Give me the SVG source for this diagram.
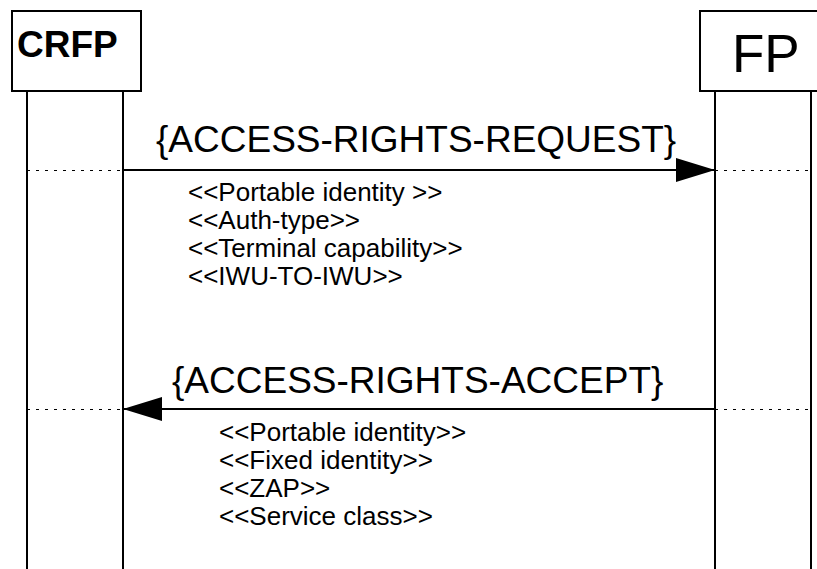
<svg xmlns="http://www.w3.org/2000/svg" width="817" height="569" viewBox="0 0 817 569">
<style>
  .box{fill:#fff;stroke:#000;stroke-width:2}
  .life{stroke:#000;stroke-width:2;fill:none}
  .dot{stroke:#000;stroke-width:1;stroke-dasharray:3 6;fill:none}
  .msg{stroke:#000;stroke-width:2;fill:none}
  .title{font-family:"Liberation Sans",Arial,sans-serif;font-size:37px;fill:#000}
  .param{font-family:"Liberation Sans",Arial,sans-serif;font-size:26px;fill:#000}
</style>
<defs>
  <marker id="ah" markerUnits="userSpaceOnUse" markerWidth="40" markerHeight="24" refX="39" refY="12" orient="auto">
    <polygon points="0,0 39,12 0,24" fill="#000"/>
  </marker>
</defs>
<rect width="817" height="569" fill="#fff"/>
<g id="crfp">
  <rect class="box" x="12" y="11" width="129" height="80"/>
  <line class="life" x1="27" y1="91" x2="27" y2="569"/>
  <line class="life" x1="123" y1="91" x2="123" y2="569"/>
  <text x="17" y="57" font-family="'Liberation Sans',Arial,sans-serif" font-size="37" font-weight="bold">CRFP</text>
</g>
<g id="fp">
  <rect class="box" x="700" y="11" width="130" height="80"/>
  <line class="life" x1="715" y1="91" x2="715" y2="569"/>
  <line class="life" x1="811" y1="91" x2="811" y2="569"/>
  <text x="732" y="72" font-family="'Liberation Sans',Arial,sans-serif" font-size="53">FP</text>
</g>
<g id="connectors">
  <line class="dot" x1="27" y1="170.5" x2="123" y2="170.5"/>
  <line class="dot" x1="715" y1="170.5" x2="811" y2="170.5"/>
  <line class="msg" x1="123" y1="170" x2="715" y2="170" marker-end="url(#ah)"/>
  <line class="dot" x1="27" y1="409.5" x2="123" y2="409.5"/>
  <line class="dot" x1="715" y1="409.5" x2="811" y2="409.5"/>
  <line class="msg" x1="715" y1="409" x2="123" y2="409" marker-end="url(#ah)"/>
</g>
<g id="labels">
  <text class="title" x="156" y="152">{ACCESS-RIGHTS-REQUEST}</text>
  <text class="param" x="188" y="201">&lt;&lt;Portable identity &gt;&gt;</text>
  <text class="param" x="188" y="229">&lt;&lt;Auth-type&gt;&gt;</text>
  <text class="param" x="188" y="257">&lt;&lt;Terminal capability&gt;&gt;</text>
  <text class="param" x="188" y="285">&lt;&lt;IWU-TO-IWU&gt;&gt;</text>
  <text class="title" x="172" y="393">{ACCESS-RIGHTS-ACCEPT}</text>
  <text class="param" x="219" y="441">&lt;&lt;Portable identity&gt;&gt;</text>
  <text class="param" x="219" y="469">&lt;&lt;Fixed identity&gt;&gt;</text>
  <text class="param" x="219" y="497">&lt;&lt;ZAP&gt;&gt;</text>
  <text class="param" x="219" y="525">&lt;&lt;Service class&gt;&gt;</text>
</g>
</svg>
